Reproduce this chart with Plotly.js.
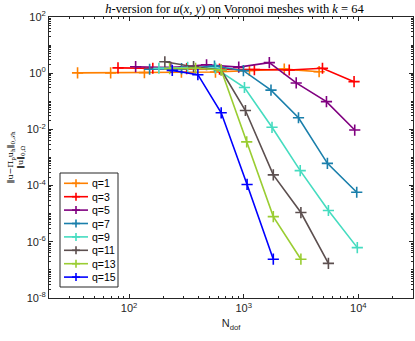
<!DOCTYPE html>
<html>
<head>
<meta charset="utf-8">
<script src="https://cdn.plot.ly/plotly-3.0.1.min.js"></script>
<style>
  html, body { margin: 0; padding: 0; background: #fff; }
  #plot { width: 415px; height: 341px; }
</style>
</head>
<body>
<div id="plot"></div>
<script>
// values
const seriesNames = ['q=1', 'q=3', 'q=5', 'q=7', 'q=9', 'q=11', 'q=13', 'q=15'];
const seriesColors = ['#ff8000', '#ff0000', '#800080', '#1a7fab', '#45dcc0', '#5c4f4f', '#9acd32', '#0000ff'];

const ndof_q1 = [35.5, 69, 136, 286, 567, 1122, 2259, 4550];
const err_q1 = [1.03, 1.03, 1.05, 1.08, 1.1, 1.25, 1.4, 1.13];

const ndof_q3 = [80, 161, 318, 615, 1239, 2496, 4866, 9180];
const err_q3 = [1.55, 1.5, 1.45, 1.4, 1.35, 1.3, 1.5, 0.5];

const ndof_q5 = [114, 231, 474, 905, 1673, 2871, 5272, 9305];
const err_q5 = [1.7, 1.6, 2.0, 1.65, 2.37, 0.45, 0.097, 0.0095];

const ndof_q7 = [151, 287, 556, 994, 1730, 3006, 5373, 9685];
const err_q7 = [1.38, 1.45, 1.8, 1.23, 0.25, 0.026, 6.2e-4, 5.8e-5];

const ndof_q9 = [182, 324, 567, 1015, 1766, 3112, 5483, 9797];
const err_q9 = [1.5, 1.6, 1.5, 0.31, 0.0119, 3.4e-4, 1.3e-5, 6.2e-7];

const ndof_q11 = [205, 365, 636, 1035, 1812, 3155, 5483];
const err_q11 = [2.56, 1.7, 1.3, 0.047, 2.4e-4, 1.1e-5, 1.7e-7];

const ndof_q13 = [226, 380, 636, 1062, 1812, 3155];
const err_q13 = [1.45, 1.5, 1.3, 0.0036, 7.9e-6, 2.4e-7];

const ndof_q15 = [238, 398, 636, 1070, 1812];
const err_q15 = [1.26, 0.885, 0.039, 1.1e-4, 2.4e-7];

const xs = [ndof_q1, ndof_q3, ndof_q5, ndof_q7, ndof_q9, ndof_q11, ndof_q13, ndof_q15];
const ys = [err_q1, err_q3, err_q5, err_q7, err_q9, err_q11, err_q13, err_q15];

const traces = seriesNames.map((name, i) => ({
    x: xs[i],
    y: ys[i],
    name: name,
    type: 'scatter',
    mode: 'lines+markers',
    showlegend: false,
    line: { color: seriesColors[i], width: 1.6 },
    marker: { symbol: 'cross-thin-open', size: 8, color: seriesColors[i], line: { color: seriesColors[i], width: 1.6 } }
}));

// decade ticks and minor ticks for log axes
function minors(lo, hi) {
    const v = [];
    for (let k = lo; k < hi; k++) {
        for (let m = 2; m <= 9; m++) v.push(m * Math.pow(10, k));
    }
    return v;
}

const yExp = [-8, -6, -4, -2, 0, 2];
const yMinor = minors(-8, 2).concat([-7, -5, -3, -1, 1].map(e => Math.pow(10, e)));
const xExp = [2, 3, 4];

// plot area in pixels, used to place the hand-made legend
const L = 49, R = 413, T = 17, B = 298;
const px = x => (x - L) / (R - L);
const py = y => (B - y) / (B - T);

// legend like the MATLAB one: tight rows, small box
const shapes = [{
    type: 'rect', xref: 'paper', yref: 'paper',
    x0: px(60), x1: px(118), y0: py(287), y1: py(173),
    line: { color: '#262626', width: 1 }, fillcolor: '#fff', layer: 'above'
}];
const annotations = [];
seriesNames.forEach((name, i) => {
    const yc = 183.3 + 13.4 * i;
    const c = seriesColors[i];
    shapes.push({ type: 'line', xref: 'paper', yref: 'paper', x0: px(64), x1: px(88), y0: py(yc), y1: py(yc),
        line: { color: c, width: 1.6 }, layer: 'above' });
    shapes.push({ type: 'line', xref: 'paper', yref: 'paper', x0: px(72), x1: px(80), y0: py(yc), y1: py(yc),
        line: { color: c, width: 1.6 }, layer: 'above' });
    shapes.push({ type: 'line', xref: 'paper', yref: 'paper', x0: px(76), x1: px(76), y0: py(yc - 4), y1: py(yc + 4),
        line: { color: c, width: 1.6 }, layer: 'above' });
    annotations.push({ xref: 'paper', yref: 'paper', x: px(90), y: py(yc), xanchor: 'left', yanchor: 'middle',
        text: name, showarrow: false, font: { family: 'Liberation Sans, Arial, sans-serif', size: 10.5, color: '#000' } });
});

const tickFont = { family: 'Liberation Sans, Arial, sans-serif', size: 11, color: '#262626' };

const layout = {
    width: 415,
    height: 341,
    margin: { l: L, r: 415 - R, t: T, b: 341 - B },
    paper_bgcolor: '#fff',
    plot_bgcolor: '#fff',
    showlegend: false,
    shapes: shapes,
    annotations: annotations,
    title: {
        text: '<i>h</i>-version for <i>u</i>(<i>x, y</i>) on Voronoi meshes with <i>k</i> = 64',
        font: { family: 'Liberation Serif, DejaVu Serif, serif', size: 12.5, color: '#000' },
        x: 0.565, xanchor: 'center', y: 0.988, yanchor: 'top'
    },
    xaxis: {
        type: 'log',
        range: [Math.log10(20), Math.log10(30000)],
        tickmode: 'array',
        tickvals: xExp.map(e => Math.pow(10, e)),
        ticktext: xExp.map(e => '10<sup>' + e + '</sup>'),
        ticks: 'inside',
        ticklen: 4,
        tickcolor: '#262626',
        tickfont: tickFont,
        minor: { tickmode: 'array', tickvals: minors(1, 5), ticks: 'inside', ticklen: 2, tickcolor: '#262626' },
        showgrid: false,
        zeroline: false,
        showline: true,
        mirror: 'ticks',
        linecolor: '#262626',
        linewidth: 1,
        title: { text: 'N<sub>dof</sub>', font: { family: 'Liberation Sans, Arial, sans-serif', size: 11, color: '#262626' }, standoff: 6 }
    },
    yaxis: {
        type: 'log',
        range: [-8, 2],
        tickmode: 'array',
        tickvals: yExp.map(e => Math.pow(10, e)),
        ticktext: yExp.map(e => '10<sup>' + e + '</sup>'),
        ticks: 'inside',
        ticklen: 4,
        tickcolor: '#262626',
        tickfont: tickFont,
        minor: { tickmode: 'array', tickvals: yMinor, ticks: 'inside', ticklen: 2, tickcolor: '#262626' },
        showgrid: false,
        zeroline: false,
        showline: true,
        mirror: 'ticks',
        linecolor: '#262626',
        linewidth: 1,
        title: {
            text: '‖u−Π<sub>p</sub>u<sub>h</sub>‖<sub>0,𝒯h</sub><br>‖u‖<sub>0,Ω</sub>',
            font: { family: 'DejaVu Serif, serif', size: 8, color: '#000' },
            standoff: 1
        }
    }
};

Plotly.newPlot('plot', traces, layout, { displayModeBar: false, staticPlot: true });
</script>
</body>
</html>
